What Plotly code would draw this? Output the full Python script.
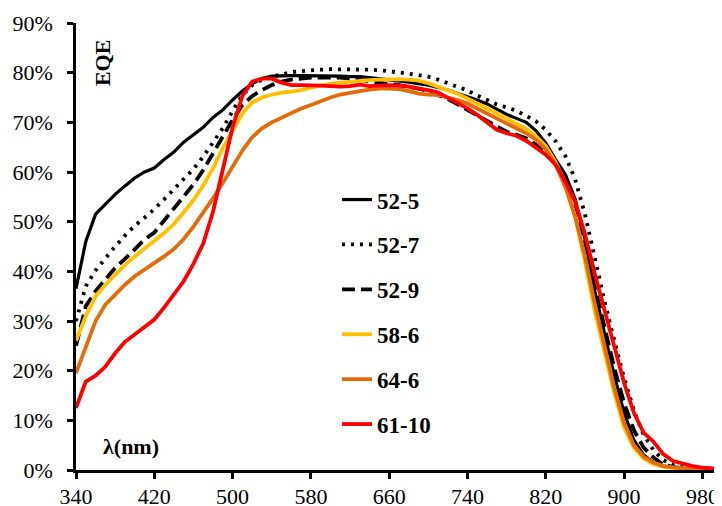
import plotly.graph_objects as go

wavelength = list(range(340, 1001, 10))

s52_5 = [36.5, 46, 51.5, 53.5, 55.5, 57.2, 58.8, 60, 60.8, 62.5, 64, 66, 67.5, 69, 71, 72.5, 74.5, 76.3, 77.8, 78.8,
         79.3, 79.4, 79.4, 79.4, 79.4, 79.3, 79.3, 79.3, 79.2, 79.2, 79, 78.8, 78.6, 78.4, 78.1, 77.8, 77.5, 77, 76.5, 75.8,
         75.2, 74.5, 73.7, 72.6, 71.6, 70.8, 70, 68.3, 65.8, 62.5, 59.5, 54.5, 46.5, 36, 27.5, 19, 11.5, 6, 3, 1.5,
         0.8, 0.5, 0.3, 0.2, 0.15, 0.1, 0.1]
s52_7 = [30, 37, 40.2, 42.7, 45, 47.2, 49.2, 50.8, 52.5, 54.5, 56.5, 58.4, 60.6, 63.1, 66, 68.8, 72.3, 75.5, 77.5, 78.6,
         79.2, 79.7, 80.1, 80.3, 80.5, 80.6, 80.7, 80.7, 80.7, 80.7, 80.6, 80.5, 80.3, 80.1, 79.8, 79.5, 79.2, 78.6, 77.9, 77.1,
         76.4, 75.4, 74.4, 73.6, 73, 72.3, 71.3, 70.2, 68.5, 66.2, 63.2, 58.5, 51.5, 42.5, 34, 26, 18.5, 12, 7, 4,
         2, 1, 0.6, 0.4, 0.3, 0.2, 0.2]
s52_9 = [25, 33, 36, 38.5, 40.7, 42.5, 44.5, 46.4, 47.8, 50.3, 52.6, 55, 57.5, 60.4, 63.8, 67.3, 70.5, 73.5, 75.3, 76.5,
         77.5, 78.2, 78.6, 78.8, 79, 79, 79, 79, 78.8, 78.5, 78.2, 78, 77.7, 77.5, 77.2, 76.8, 76.3, 75.6, 74.7, 73.6,
         72.5, 71.4, 70.1, 69, 68.1, 67.5, 66.8, 65.5, 63.8, 61.5, 58, 53.5, 46, 37, 29, 20.5, 13.5, 8, 4.5, 2.5,
         1.1, 0.6, 0.4, 0.3, 0.2, 0.1, 0.1]
s58_6 = [26, 31, 35, 37.3, 39.3, 41.3, 43, 44.5, 46, 47.7, 49.5, 51.8, 54.3, 57.3, 60.8, 64.8, 68.5, 71.8, 74, 75,
         75.6, 76, 76.2, 76.5, 77, 77.4, 77.8, 78, 78.2, 78.4, 78.5, 78.6, 78.7, 78.7, 78.6, 78.4, 77.9, 77.2, 76.5, 75.7,
         74.8, 73.8, 72.8, 71.8, 70.8, 69.6, 68.7, 67.2, 65.2, 62, 57.5, 51, 42, 32, 23.5, 15.5, 8.5, 4.5, 2.3, 1.2,
         0.7, 0.4, 0.3, 0.2, 0.1, 0.1, 0.1]
s64_6 = [19.5, 25, 30, 33.3, 35.3, 37.3, 39, 40.3, 41.5, 43, 44.5, 46.5, 49, 51.7, 54.7, 57.8, 61, 64.3, 67, 68.8,
         70, 71, 72, 72.8, 73.5, 74.3, 75, 75.6, 76, 76.3, 76.6, 76.8, 76.8, 76.7, 76.3, 75.8, 75.6, 75.5, 75, 74.5,
         73.8, 72.8, 71.8, 70.8, 69.8, 68.7, 67.8, 66.5, 64.6, 61.5, 57, 51, 43, 33.5, 25, 16.5, 9.5, 5, 2.7, 1.5,
         0.8, 0.5, 0.3, 0.2, 0.1, 0.1, 0.1]
s61_10 = [12.5, 17.8, 19, 20.8, 23.5, 25.8, 27.3, 28.7, 30.3, 32.7, 35.2, 38, 41.5, 45.6, 52, 60.5, 69, 75.3, 78.2, 78.8,
          78.8, 78, 77.5, 77.5, 77.5, 77.4, 77.3, 77.2, 77.3, 77.6, 77.3, 77.4, 77.5, 77.4, 77.2, 76.8, 76.5, 76, 75, 73.8,
          72.8, 71.5, 70, 68.5, 67.8, 67.3, 66.3, 65, 63.5, 61.5, 58, 54, 47.5, 39.5, 32, 24.5, 17.5, 11.5, 7.5, 5.7,
          3.2, 1.8, 1.2, 0.8, 0.5, 0.3, 0.3]

series_names = ["52-5", "52-7", "52-9", "58-6", "64-6", "61-10"]
series_values = [s52_5, s52_7, s52_9, s58_6, s64_6, s61_10]
styles = [
    dict(color="black", width=3.2, dash="solid"),
    dict(color="black", width=3.8, dash="3px,6px"),
    dict(color="black", width=3.8, dash="13px,6px"),
    dict(color="#FFC000", width=3.8, dash="solid"),
    dict(color="#E36C09", width=3.8, dash="solid"),
    dict(color="#FF0000", width=3.8, dash="solid"),
]

x_ticks = [340, 420, 500, 580, 660, 740, 820, 900, 980]
y_ticks = [0, 10, 20, 30, 40, 50, 60, 70, 80, 90]
y_ticklabels = [f"{v}%" for v in y_ticks]

FONT = "Times New Roman, Liberation Serif, serif"

fig = go.Figure()
for name, vals, st in zip(series_names, series_values, styles):
    fig.add_trace(go.Scatter(x=wavelength, y=vals, mode="lines", name=name,
                             legendgroup=name, line=st))

fig.update_layout(
    width=714, height=498,
    margin=dict(l=68, r=0, t=15, b=36, autoexpand=False),
    paper_bgcolor="white", plot_bgcolor="white",
    font=dict(family=FONT, size=22, color="black"),
    showlegend=True,
    legend=dict(x=0.404, y=0.653, xanchor="left", yanchor="top",
                font=dict(family=FONT, size=23, color="black", weight="bold"),
                tracegroupgap=12, bgcolor="rgba(0,0,0,0)"),
    xaxis=dict(range=[340, 1000], tickvals=x_ticks, showgrid=False, zeroline=False,
               automargin=False,
               showline=True, linecolor="black", linewidth=2.5,
               ticks="outside", ticklen=6, tickwidth=2.5, tickcolor="black",
               ticklabelstandoff=-1,
               tickfont=dict(family=FONT, size=22, color="black")),
    yaxis=dict(range=[0, 90], tickmode="array", tickvals=y_ticks, ticktext=y_ticklabels,
               showgrid=False, zeroline=False, automargin=False,
               showline=True, linecolor="black", linewidth=2.5,
               ticks="outside", ticklen=6, tickwidth=2.5, tickcolor="black",
               ticklabelstandoff=10,
               tickfont=dict(family=FONT, size=22, color="black")),
    annotations=[
        dict(text="<b>EQE</b>", x=0.040, y=0.91, xref="paper", yref="paper", textangle=-90,
             xanchor="center", yanchor="middle",
             showarrow=False, font=dict(family=FONT, size=22, color="black")),
        dict(text="<b>λ(nm)</b>", x=0.085, y=0.052, xref="paper", yref="paper",
             xanchor="center", yanchor="middle",
             showarrow=False, font=dict(family=FONT, size=22, color="black")),
    ],
)

fig.write_html("out.html")
